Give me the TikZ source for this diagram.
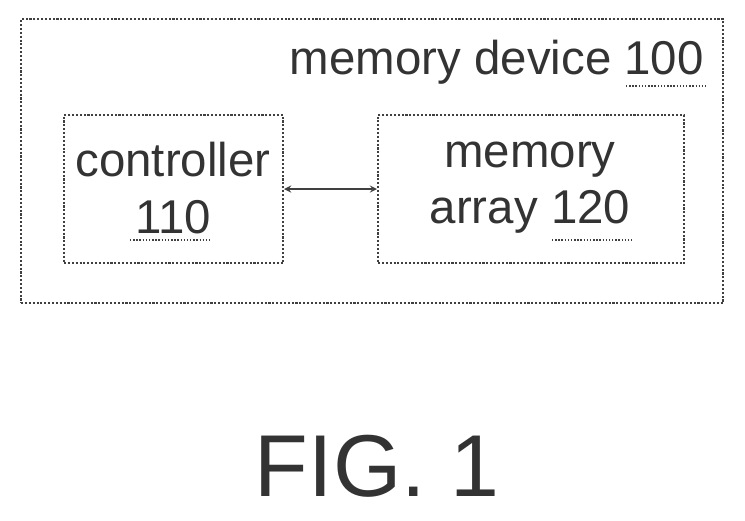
\documentclass[tikz,border=0pt]{standalone}
\usepackage{fontspec}
\setmainfont{Liberation Sans}
\usepackage{tikz}
\usetikzlibrary{positioning}

\begin{document}
\begin{tikzpicture}[
   x=0.02cm, y=-0.02cm,
   blockbox/.style={draw=black!75, densely dotted, line width=1.2},
   blocktext/.style={font=\fontsize{27}{30}\selectfont, text=black!80, align=center},
   refnum/.style={draw=black!75, densely dotted, line width=0.8}
  ]

  % Frame
  \useasboundingbox (0, 0) rectangle (745, 521);

  \node (dev) [blockbox, minimum width=702*0.02cm, minimum height=284*0.02cm,
               anchor=north west] at (20, 18) {};
  \node (ctrl) [blockbox, minimum width=219*0.02cm, minimum height=148*0.02cm,
                anchor=north west] at (63, 114) {};
  \node (arr) [blockbox, minimum width=306*0.02cm, minimum height=148*0.02cm,
               anchor=north west] at (377, 114) {};

  % Labels
  \node (devlabel) [blocktext, anchor=east] at (710, 62) {memory device 100};
  \node (ctrllabel) [blocktext] at (173, 188) {controller\\[2pt]110};
  \node (arrlabel) [blocktext] at (530, 188) {memory\\[2pt]array 120};

  \draw[refnum] (626, 86) -- (708, 86);
  \draw[refnum] (130, 240) -- (212, 240);
  \draw[refnum] (552, 240) -- (634, 240);

  \draw[<->, >=stealth, black!75, line width=0.8] (ctrl.east) -- (arr.west);

  \node (fig) [font=\fontsize{50}{56}\selectfont, text=black!80] at (377, 466) {FIG. 1};

\end{tikzpicture}
\end{document}
